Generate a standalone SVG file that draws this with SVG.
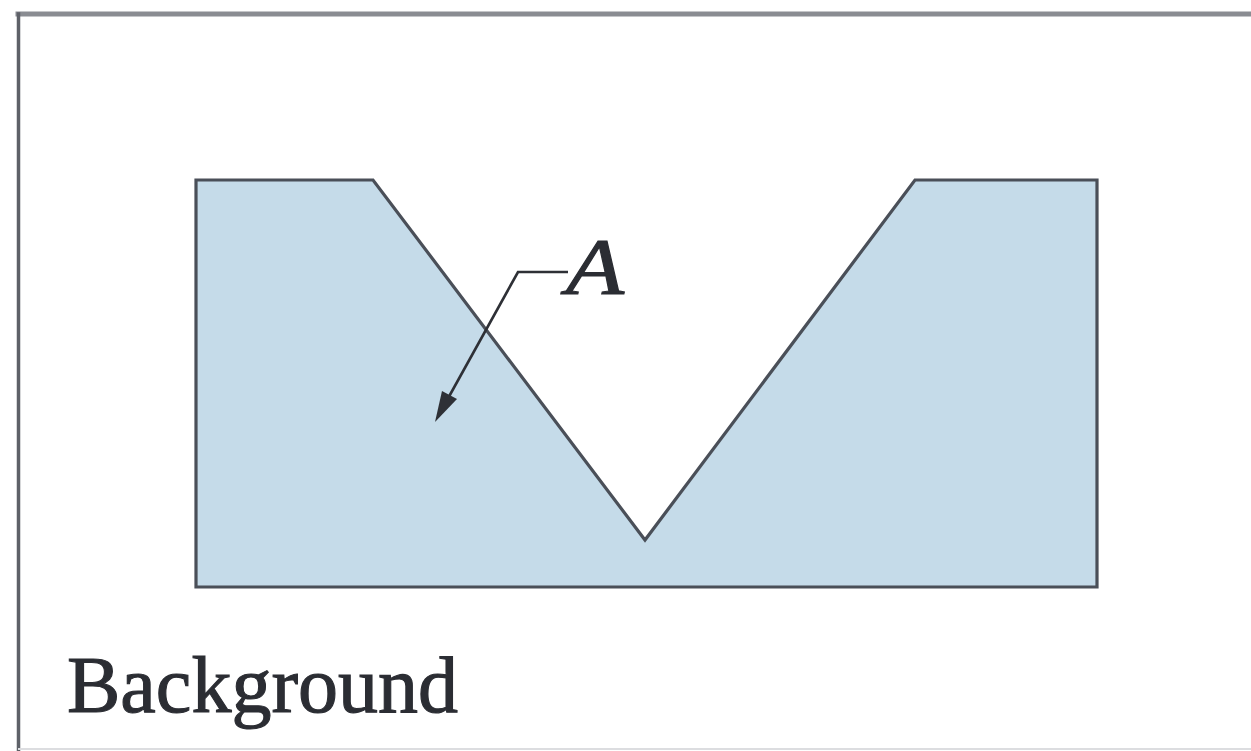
<svg xmlns="http://www.w3.org/2000/svg" width="1251" height="751" viewBox="0 0 1251 751">
<style>
.frame{fill:none;stroke-linecap:square}
.shape{fill:#c5dbe9;stroke:#4a4f58;stroke-width:3.2;stroke-linejoin:miter}
.lead{fill:none;stroke:#2e3036;stroke-width:2.6}
.head{fill:#2e3036}
.lbl{font-family:"Liberation Serif","Times New Roman",serif;fill:#2b2d33;stroke:#2b2d33;stroke-width:1.1}
</style>
<rect width="1251" height="751" fill="#ffffff"/>
<g id="frame">
<line class="frame" x1="18" y1="14" x2="1255" y2="14" stroke="#8a8c92" stroke-width="5"/>
<line class="frame" x1="18.5" y1="14" x2="18.5" y2="755" stroke="#5e6168" stroke-width="3.5"/>
<line x1="18" y1="749" x2="1251" y2="749" stroke="#dcdde0" stroke-width="2"/>
</g>
<g id="body">
<polygon class="shape" points="196,180 373,180 645,540 915,180 1097,180 1097,587 196,587"/>
</g>
<g id="connectors">
<polyline class="lead" points="568,272 518,272 446,402"/>
<polygon class="head" points="435,422 457,399 442,391"/>
</g>
<g id="label-A">
<text class="lbl" x="566" y="294" font-size="80" font-style="italic" textLength="58" lengthAdjust="spacingAndGlyphs">A</text>
</g>
<g id="label-background">
<text class="lbl" x="67" y="712" font-size="80">Background</text>
</g>
</svg>
